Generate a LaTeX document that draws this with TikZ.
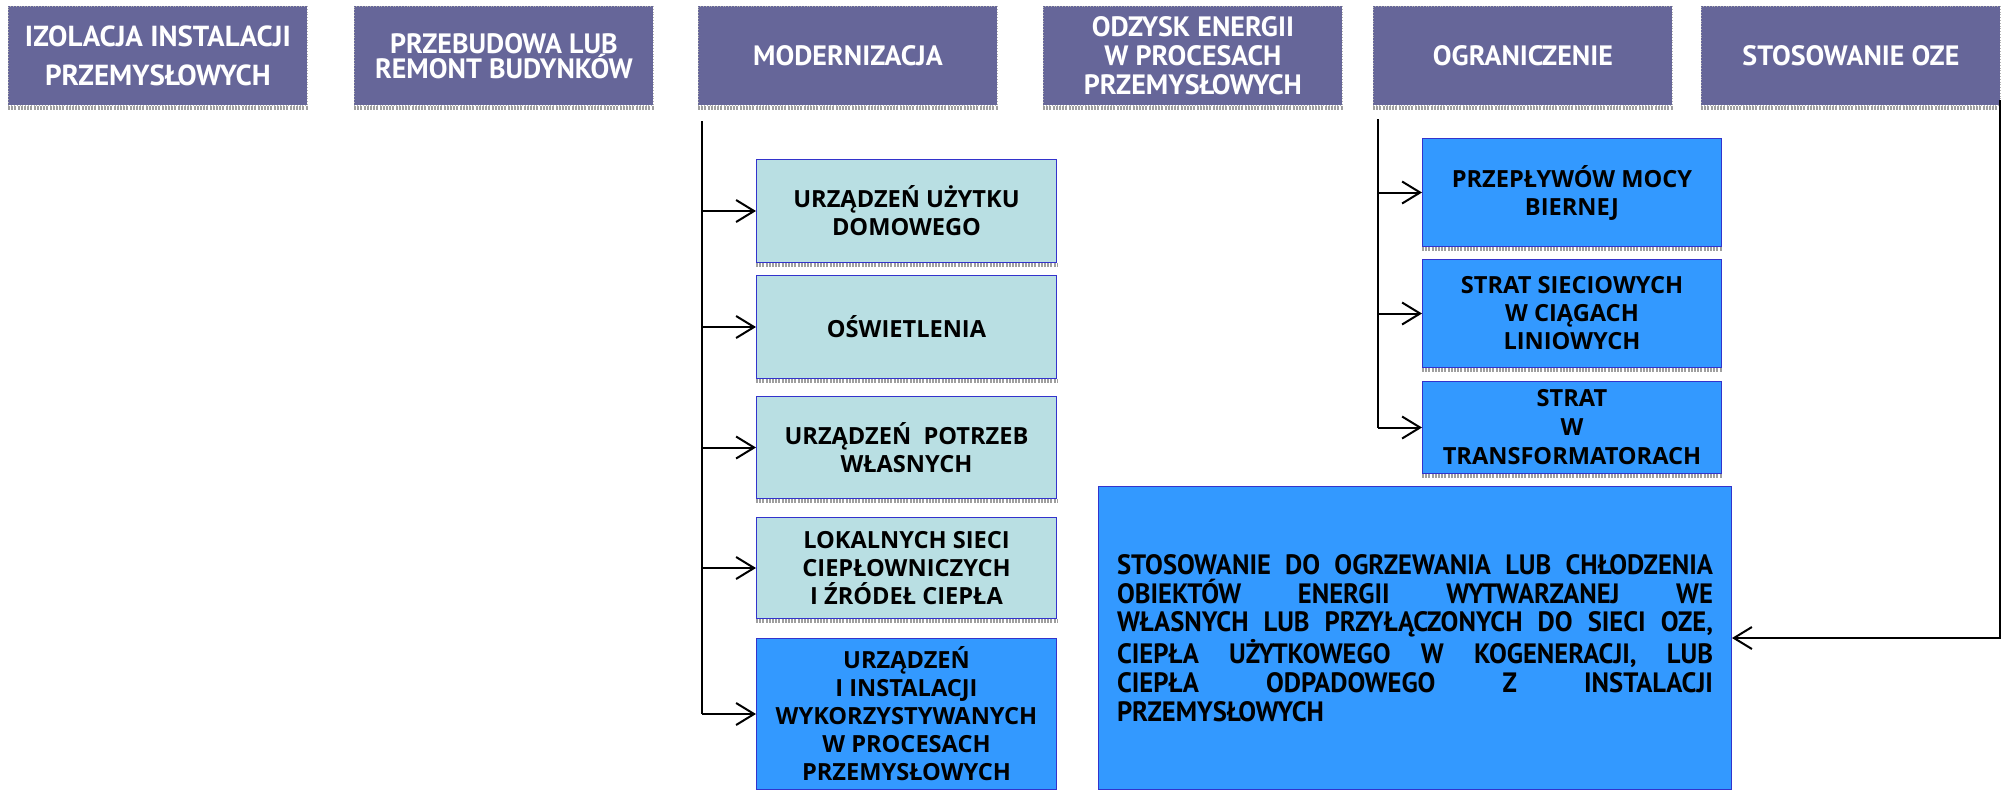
\documentclass[tikz,border=0pt]{standalone}
\usepackage{fontspec}
\setmainfont{PT Sans}
\newfontfamily\midfont{Open Sans}
\newfontfamily\bigfont[FakeStretch=0.95]{PT Sans}
\usetikzlibrary{arrows.meta}
\definecolor{topc}{HTML}{666699}
\definecolor{tealc}{HTML}{B9DFE3}
\definecolor{bluec}{HTML}{3399FF}
\definecolor{edgec}{HTML}{3333CC}
\begin{document}
\begin{tikzpicture}[x=0.5pt,y=-0.5pt,
  topbox/.style={anchor=north west, fill=topc, draw=gray!60, densely dotted, line width=0.4pt,
    minimum width=149.5pt, minimum height=49.5pt, inner sep=0pt, align=center, text=white,
    font=\bfseries\fontsize{14}{#1}\selectfont},
  topbox/.default=15pt,
  midbox/.style={anchor=north west, draw=edgec, line width=0.5pt,
    minimum width=150pt, inner sep=0pt, align=center, text=black,
    font=\midfont\bfseries\fontsize{11.8}{14}\selectfont},
  tealbox/.style={midbox, fill=tealc},
  bluebox/.style={midbox, fill=bluec},
  strip/.style={line width=2pt, gray!75, dash pattern=on 1pt off 0.6pt},
  conn/.style={line width=1pt, black},
  arr/.style={conn, -{Straight Barb[length=9pt,width=11pt]}},
]
\useasboundingbox (0,0) rectangle (2002,789);

% top boxes
\node[topbox=19.5pt, font=\bfseries\fontsize{14.5}{19.5}\selectfont] (t1) at (8,6) {IZOLACJA INSTALACJI\\PRZEMYSŁOWYCH};
\node[topbox=12.5pt] (t2) at (354,6) {PRZEBUDOWA LUB\\REMONT BUDYNKÓW};
\node[topbox] (t3) at (698,6) {MODERNIZACJA};
\node[topbox=14.5pt] (t4) at (1043,6) {ODZYSK ENERGII\\W PROCESACH\\PRZEMYSŁOWYCH};
\node[topbox] (t5) at (1373,6) {OGRANICZENIE};
\node[topbox] (t6) at (1701,6) {STOSOWANIE OZE};
\foreach \n in {t1,t2,t3,t4,t5,t6}
  \draw[strip] ([yshift=-1.2pt]\n.south west) -- ([yshift=-1.2pt]\n.south east);

% modernizacja column
\node[tealbox, minimum height=51.5pt] (ua) at (756,159) {URZĄDZEŃ UŻYTKU\\DOMOWEGO};
\node[tealbox, minimum height=51.5pt] (ub) at (756,275) {OŚWIETLENIA};
\node[tealbox, minimum height=51pt] (uc) at (756,396) {URZĄDZEŃ\ \ POTRZEB\\WŁASNYCH};
\node[tealbox, minimum height=50.5pt] (ud) at (756,517) {LOKALNYCH SIECI\\CIEPŁOWNICZYCH\\I ŹRÓDEŁ CIEPŁA};
\node[bluebox, minimum height=75.5pt] (ue) at (756,638) {URZĄDZEŃ\\I INSTALACJI\\WYKORZYSTYWANYCH\\W PROCESACH\\PRZEMYSŁOWYCH};
\foreach \n in {ua,ub,uc,ud}
  \draw[strip] ([yshift=-1.2pt]\n.south west) -- ([yshift=-1.2pt]\n.south east);

% ograniczenie column
\node[bluebox, minimum width=149.5pt, minimum height=54pt] (p1) at (1422,138) {PRZEPŁYWÓW MOCY\\BIERNEJ};
\node[bluebox, minimum width=149.5pt, minimum height=54pt] (p2) at (1422,259) {STRAT SIECIOWYCH\\W CIĄGACH\\LINIOWYCH};
\node[bluebox, minimum width=149.5pt, minimum height=46pt, font=\midfont\bfseries\fontsize{11.8}{14.5}\selectfont] (p3) at (1422,381) {STRAT\\W\\TRANSFORMATORACH};
\foreach \n in {p1,p2,p3}
  \draw[strip] ([yshift=-1.2pt]\n.south west) -- ([yshift=-1.2pt]\n.south east);

% big OZE box
\node[anchor=north west, fill=bluec, draw=edgec, line width=0.5pt,
  minimum width=316.5pt, minimum height=151.5pt, inner sep=0pt] (big) at (1098,486) {};
\node[text width=298pt, align=justify, inner sep=0pt,
  font=\bigfont\bfseries\fontsize{14}{14.4}\selectfont] (bigtext) at (big.center)
  {\noindent STOSOWANIE DO OGRZEWANIA LUB CHŁODZENIA\linebreak
   OBIEKTÓW ENERGII WYTWARZANEJ WE\linebreak
   WŁASNYCH LUB PRZYŁĄCZONYCH DO SIECI OZE,\linebreak
   CIEPŁA UŻYTKOWEGO W KOGENERACJI, LUB\linebreak
   CIEPŁA ODPADOWEGO Z INSTALACJI\linebreak
   PRZEMYSŁOWYCH};

% connectors
\coordinate (m0) at (702,121);
\draw[conn] (m0) -- (ue.west -| m0);
\foreach \n in {ua,ub,uc,ud,ue}
  \draw[arr] (\n.west -| m0) -- (\n.west);

\coordinate (o0) at (1378,119);
\draw[conn] (o0) -- (p3.west -| o0);
\foreach \n in {p1,p2,p3}
  \draw[arr] (\n.west -| o0) -- (\n.west);

\coordinate (z0) at (2000,100);
\draw[arr] (z0) |- (big.east);
\end{tikzpicture}
\end{document}
